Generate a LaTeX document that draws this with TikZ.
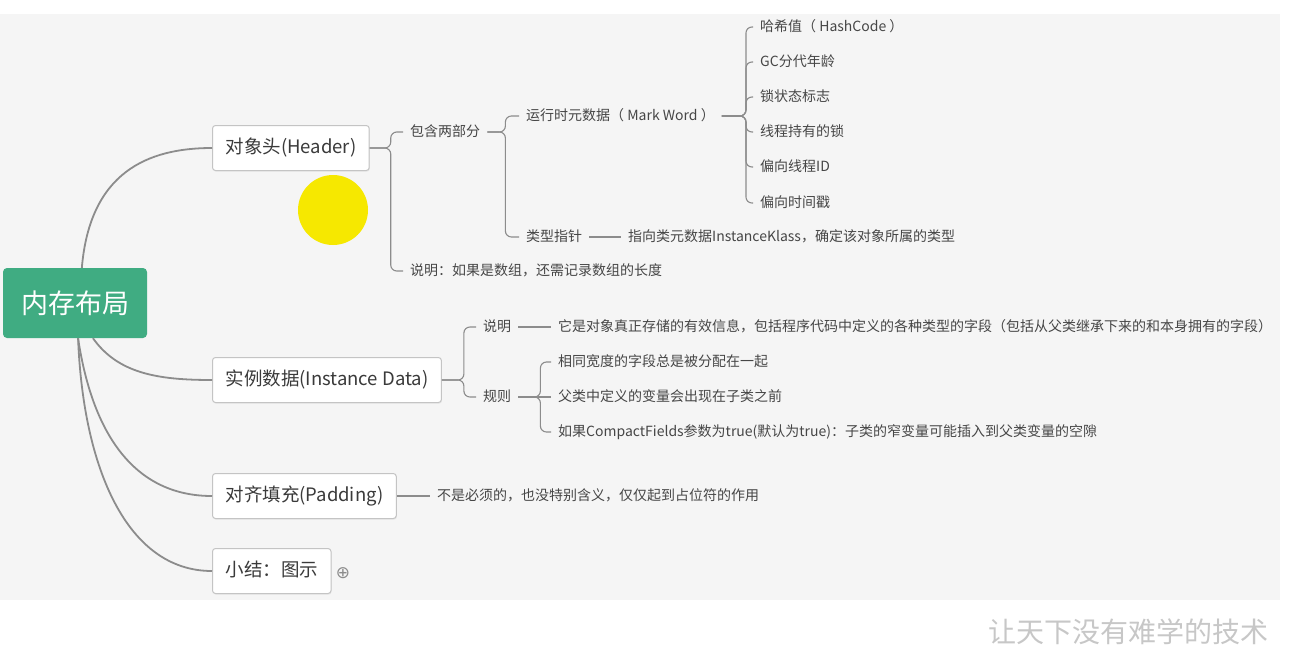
\documentclass[tikz,border=0pt]{standalone}
\usepackage{fontspec}
\setmainfont{Noto Sans CJK SC}
\newfontfamily\symfont{DejaVu Sans}
\usetikzlibrary{shadows}

\begin{document}
\begin{tikzpicture}[x=1pt, y=-1pt,
    root/.style={rectangle, fill=rootgreen, rounded corners=4pt, minimum width=144pt, minimum height=70pt, text=white, font=\fontsize{27}{30}\selectfont},
    topic/.style={rectangle, draw=boxborder, fill=white, line width=1pt, rounded corners=3pt, minimum height=45pt, inner xsep=13pt, text height=15pt, text depth=4pt, anchor=west, text=darktext, font=\fontsize{18.5}{21}\selectfont, drop shadow={shadow xshift=0.6pt, shadow yshift=-1.2pt, opacity=0.12}},
    leaf/.style={anchor=west, inner xsep=7pt, inner ysep=1pt, text height=11.5pt, text depth=3pt, text=leaftext, font=\fontsize{14}{16}\selectfont},
    branch/.style={draw=linegray, line width=1.8pt},
    twig/.style={draw=linegray, line width=1.1pt, rounded corners=6pt}
]

% Define colors
\definecolor{rootgreen}{RGB}{64,172,130}     % root topic
\definecolor{boxborder}{RGB}{196,196,196}
\definecolor{darktext}{RGB}{58,58,58}
\definecolor{leaftext}{RGB}{70,70,70}
\definecolor{linegray}{RGB}{140,140,140}
\definecolor{bggray}{RGB}{245,245,245}
\definecolor{markyellow}{RGB}{246,232,0}

% Canvas
\useasboundingbox (0,0) rectangle (1300,646);
\fill[white] (0,0) rectangle (1300,646);
\fill[bggray] (0,14) rectangle (1280,600);

% Root and main topics
\node[root] (layout) at (75,303) {内存布局};
\node[topic] (header) at (212,148) {对象头(Header)};
\node[topic] (instdata) at (212,380) {实例数据(Instance Data)};
\node[topic] (padding) at (212,496) {对齐填充(Padding)};
\node[topic] (summary) at (212,571) {小结：图示};
\node[text=linegray, font=\symfont\fontsize{17}{17}\selectfont, inner sep=0pt] (sumplus) at (343,573) {⊕};

% Header details
\node[leaf] (twoparts) at (403,132) {包含两部分};
\node[leaf] (arraynote) at (403,271) {说明：如果是数组，还需记录数组的长度};
\node[leaf] (markword) at (519,116) {运行时元数据（ Mark Word ）};
\node[leaf] (klassptr) at (519,237) {类型指针};
\node[leaf] (klassnote) at (621,237) {指向类元数据InstanceKlass，确定该对象所属的类型};
\foreach \i/\y/\txt in {1/27/{哈希值（ HashCode ）}, 2/62/{GC分代年龄}, 3/97/{锁状态标志},
                        4/132/{线程持有的锁}, 5/167/{偏向线程ID}, 6/203/{偏向时间戳}}
    \node[leaf] (mw\i) at (753,\y) {\txt};

% Instance data details
\node[leaf] (idesc) at (476,327) {说明};
\node[leaf] (irule) at (476,397) {规则};
\node[leaf] (idesctext) at (551,327) {它是对象真正存储的有效信息，包括程序代码中定义的各种类型的字段（包括从父类继承下来的和本身拥有的字段）};
\node[leaf] (rule1) at (551,362) {相同宽度的字段总是被分配在一起};
\node[leaf] (rule2) at (551,397) {父类中定义的变量会出现在子类之前};
\node[leaf] (rule3) at (551,432) {如果CompactFields参数为true(默认为true)：子类的窄变量可能插入到父类变量的空隙};

% Padding details
\node[leaf] (padnote) at (430,496) {不是必须的，也没特别含义，仅仅起到占位符的作用};

% Branches from root
\draw[branch] (layout.79) .. controls +(8,-95) and +(-65,0) .. (header.west);
\draw[branch] (layout.-63) .. controls +(25,35) and +(-55,0) .. (instdata.west);
\draw[branch] (layout.-85) .. controls +(15,100) and +(-75,0) .. (padding.west);
\draw[branch] (layout.-85) .. controls +(5,130) and +(-85,0) .. (summary.west);

% Brackets
\foreach \c in {twoparts, arraynote}
    \draw[twig] (header.east) -- ++(21,0) |- (\c.west);
\foreach \c in {markword, klassptr}
    \draw[twig] (twoparts.east) -- ++(18,0) |- (\c.west);
\foreach \i in {1,...,6}
    \draw[twig] (markword.east) -- ++(24,0) |- (mw\i.west);
\draw[twig] (klassptr) -- (klassnote);
\foreach \c in {idesc, irule}
    \draw[twig] (instdata.east) -- ++(22,0) |- (\c.west);
\draw[twig] (idesc) -- (idesctext);
\foreach \c in {rule1, rule3}
    \draw[twig] (irule.east) -- ++(22,0) |- (\c.west);
\draw[twig] (irule) -- (rule2);
\draw[twig] (padding) -- (padnote);

% Pointer highlight
\fill[markyellow] (333,210) circle (35);

% Watermark
\node[text=black!22, font=\fontsize{28}{30}\selectfont] (watermark) at (1128,632) {让天下没有难学的技术};

\end{tikzpicture}
\end{document}
